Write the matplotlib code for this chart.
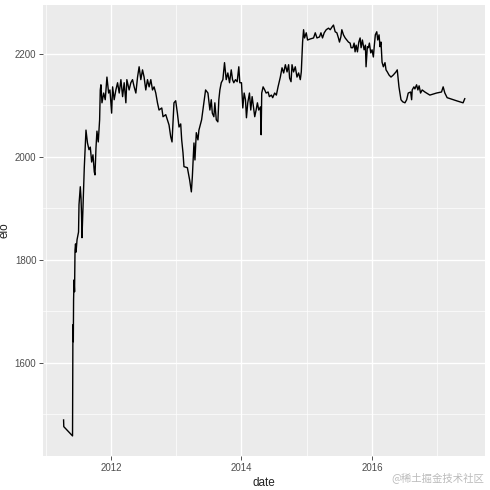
import matplotlib
matplotlib.use("Agg")
import matplotlib.pyplot as plt
import numpy as np

# дата в долях года и рейтинг elo
year = [2011.275, 2011.278, 2011.412, 2011.417, 2011.420, 2011.424, 2011.428, 2011.435, 2011.443, 2011.450,
        2011.458, 2011.466, 2011.481, 2011.504, 2011.511, 2011.531, 2011.542, 2011.550, 2011.557, 2011.573,
        2011.592, 2011.618, 2011.641, 2011.664, 2011.684, 2011.705, 2011.725, 2011.745, 2011.756, 2011.771,
        2011.786, 2011.806, 2011.827, 2011.837, 2011.847, 2011.863, 2011.889, 2011.913, 2011.939, 2011.965,
        2011.985, 2012.011, 2012.026, 2012.050, 2012.076, 2012.102, 2012.127, 2012.153, 2012.179, 2012.203,
        2012.229, 2012.244, 2012.279, 2012.305, 2012.331, 2012.356, 2012.382, 2012.408, 2012.432, 2012.458,
        2012.484, 2012.508, 2012.534, 2012.560, 2012.585, 2012.611, 2012.637, 2012.661, 2012.687, 2012.713,
        2012.737, 2012.779, 2012.798, 2012.840, 2012.890, 2012.916, 2012.936, 2012.966, 2012.992, 2013.018,
        2013.043, 2013.069, 2013.084, 2013.104, 2013.119, 2013.171, 2013.206, 2013.232, 2013.247, 2013.272,
        2013.287, 2013.308, 2013.333, 2013.348, 2013.389, 2013.424, 2013.450, 2013.486, 2013.516, 2013.537,
        2013.553, 2013.577, 2013.592, 2013.614, 2013.638, 2013.653, 2013.669, 2013.690, 2013.715, 2013.740,
        2013.766, 2013.791, 2013.817, 2013.843, 2013.863, 2013.882, 2013.908, 2013.934, 2013.959, 2013.974,
        2014.000, 2014.020, 2014.041, 2014.061, 2014.076, 2014.096, 2014.122, 2014.142, 2014.163, 2014.183,
        2014.203, 2014.224, 2014.244, 2014.264, 2014.290, 2014.301, 2014.310, 2014.331, 2014.356, 2014.377,
        2014.408, 2014.427, 2014.458, 2014.478, 2014.508, 2014.534, 2014.560, 2014.595, 2014.621, 2014.646,
        2014.672, 2014.698, 2014.722, 2014.737, 2014.759, 2014.774, 2014.798, 2014.824, 2014.850, 2014.875,
        2014.901, 2014.916, 2014.936, 2014.951, 2014.966, 2014.992, 2015.012, 2015.053, 2015.104, 2015.130,
        2015.156, 2015.195, 2015.217, 2015.241, 2015.267, 2015.298, 2015.333, 2015.359, 2015.385, 2015.409,
        2015.435, 2015.461, 2015.485, 2015.501, 2015.522, 2015.537, 2015.562, 2015.588, 2015.614, 2015.638,
        2015.664, 2015.679, 2015.705, 2015.725, 2015.740, 2015.756, 2015.776, 2015.797, 2015.817, 2015.832,
        2015.852, 2015.878, 2015.898, 2015.908, 2015.928, 2015.944, 2015.959, 2015.980, 2016.000, 2016.020,
        2016.035, 2016.050, 2016.072, 2016.087, 2016.107, 2016.122, 2016.137, 2016.153, 2016.173, 2016.198,
        2016.214, 2016.234, 2016.260, 2016.290, 2016.325, 2016.366, 2016.386, 2016.412, 2016.443, 2016.469,
        2016.504, 2016.530, 2016.554, 2016.591, 2016.606, 2016.615, 2016.641, 2016.656, 2016.682, 2016.702,
        2016.721, 2016.743, 2016.768, 2016.809, 2016.885, 2016.988, 2017.064, 2017.089, 2017.115, 2017.150,
        2017.293, 2017.394, 2017.420]

elo = [1489, 1476, 1458, 1635, 1674, 1641, 1722, 1761, 1738, 1819,
       1831, 1815, 1839, 1854, 1907, 1942, 1920, 1887, 1843, 1907,
       1979, 2052, 2027, 2014, 2019, 1990, 2004, 1971, 1965, 2017,
       2050, 2029, 2072, 2130, 2140, 2105, 2124, 2111, 2155, 2124,
       2130, 2085, 2136, 2111, 2130, 2144, 2124, 2150, 2117, 2144,
       2105, 2150, 2130, 2144, 2150, 2136, 2124, 2155, 2175, 2150,
       2169, 2155, 2130, 2150, 2136, 2150, 2130, 2136, 2124, 2105,
       2091, 2095, 2078, 2082, 2062, 2039, 2029, 2105, 2109, 2085,
       2058, 2064, 2033, 2008, 1981, 1979, 1955, 1932, 1961, 2027,
       1994, 2047, 2033, 2052, 2072, 2105, 2130, 2124, 2091, 2111,
       2085, 2078, 2105, 2072, 2068, 2111, 2130, 2144, 2150, 2183,
       2150, 2163, 2144, 2169, 2150, 2144, 2150, 2146, 2175, 2144,
       2144, 2095, 2124, 2111, 2076, 2105, 2124, 2091, 2117, 2097,
       2078, 2091, 2105, 2091, 2097, 2043, 2124, 2136, 2130, 2124,
       2126, 2117, 2120, 2115, 2124, 2120, 2136, 2155, 2173, 2163,
       2179, 2165, 2179, 2153, 2146, 2179, 2165, 2175, 2155, 2163,
       2150, 2165, 2223, 2247, 2231, 2241, 2227, 2229, 2231, 2241,
       2231, 2233, 2241, 2231, 2241, 2247, 2250, 2247, 2252, 2256,
       2243, 2241, 2231, 2223, 2233, 2247, 2237, 2231, 2227, 2223,
       2221, 2212, 2212, 2221, 2204, 2217, 2204, 2223, 2231, 2212,
       2227, 2208, 2217, 2175, 2214, 2212, 2221, 2202, 2208, 2194,
       2217, 2237, 2243, 2227, 2237, 2214, 2223, 2184, 2175, 2183,
       2169, 2165, 2159, 2155, 2159, 2165, 2169, 2136, 2111, 2107,
       2105, 2111, 2124, 2126, 2111, 2130, 2136, 2132, 2140, 2130,
       2138, 2124, 2130, 2126, 2120, 2124, 2126, 2136, 2124, 2115,
       2109, 2105, 2113]

x_major = [2012, 2014, 2016]
x_minor = [2011, 2013, 2015, 2017]
y_major = [1600, 1800, 2000, 2200]
y_minor = [1500, 1700, 1900, 2100]

plt.rcParams['font.family'] = ['Liberation Sans', 'DejaVu Sans']

fig = plt.figure(figsize=(4.9, 4.9), dpi=100)
ax = fig.add_axes([0.0878, 0.0694, 0.902, 0.9204])
ax.set_facecolor('#EBEBEB')
for s in ax.spines.values():
    s.set_visible(False)

ax.set_xticks(x_major)
ax.set_xticks(x_minor, minor=True)
ax.set_yticks(y_major)
ax.set_yticks(y_minor, minor=True)
ax.grid(which='major', color='white', linewidth=1.0)
ax.grid(which='minor', color='white', linewidth=0.5)
ax.set_axisbelow(True)
ax.tick_params(which='major', length=2.8, width=0.6, color='#333333',
               labelsize=7, labelcolor='#4D4D4D', pad=2)
ax.tick_params(which='minor', length=0)

ax.plot(year, elo, color='black', linewidth=1.0)

# ggplot-подобный запас 5% по краям
ax.set_xlim(2010.96, 2017.73)
ax.set_ylim(1419, 2295)

ax.set_xlabel('date', fontsize=8.5, color='#222222', labelpad=3)
ax.set_ylabel('elo', fontsize=8.5, color='#222222', labelpad=3)

fig.text(0.988, 0.026, '@稀土掘金技术社区', ha='right', va='center', fontsize=7.5,
         color='#BBBBBB', family=['Noto Sans CJK SC', 'DejaVu Sans'])

fig.savefig('out.png', dpi=100)
